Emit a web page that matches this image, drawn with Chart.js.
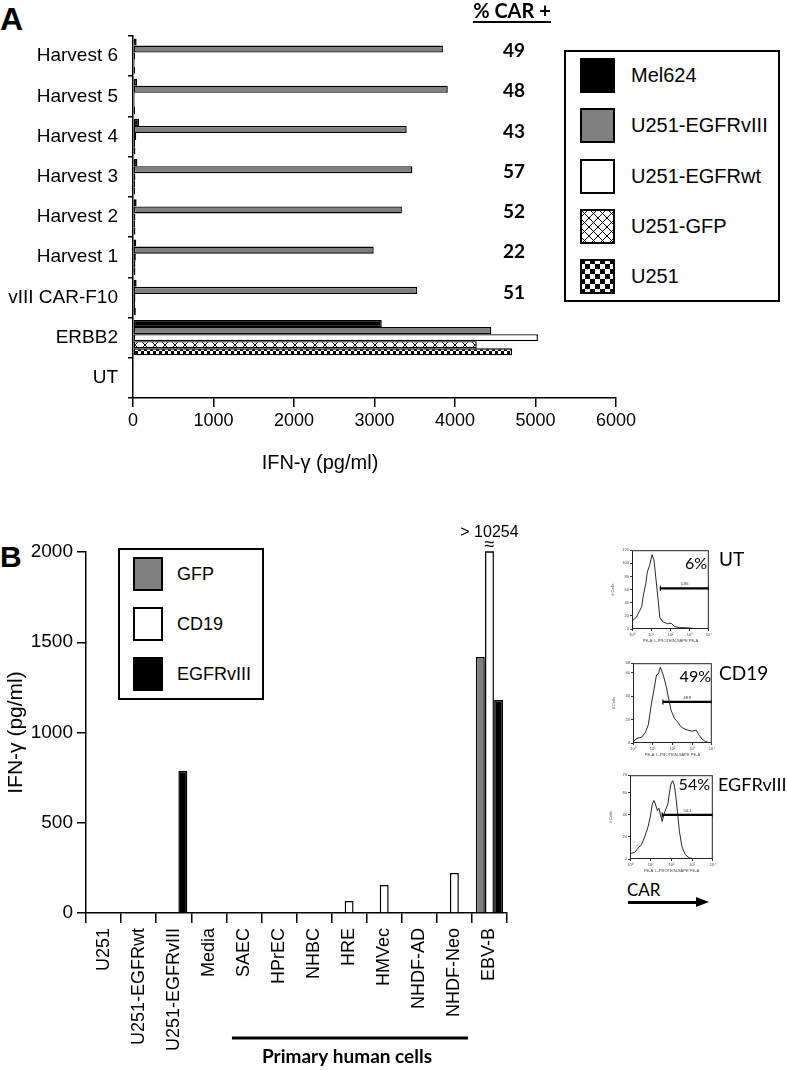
<!DOCTYPE html>
<html>
<head>
<meta charset="utf-8">
<script src="https://cdn.jsdelivr.net/npm/chart.js@4.4.1/dist/chart.umd.min.js"></script>
<style>
  body { margin: 0; background: #fff; }
  #page { position: relative; width: 787px; height: 1070px; overflow: hidden; background: #fff;
          font-family: 'Liberation Sans', Arial, sans-serif; color: #000; }
  #page canvas { position: absolute; }
  .abs { position: absolute; white-space: nowrap; }
  .panel { font-weight: bold; line-height: 1; }
  .narrow { font-family: 'Liberation Sans Narrow', 'Liberation Sans', Arial, sans-serif; }
  .humanist { font-family: Lato, 'Open Sans', sans-serif; }
  .legend { position: absolute; border: 2px solid #000; background: #fff; }
  .legend .row { position: absolute; left: 0; right: 0; }
  .legend .row canvas { position: absolute; left: 0; top: 0; }
  .legend .row span { position: absolute; white-space: nowrap; }
</style>
</head>
<body>
<div id="page">
  <div class="abs panel" style="left:0;top:3px;font-size:32px">A</div>
  <canvas id="chartA" width="640" height="480" style="left:0;top:0"></canvas>
  <div class="abs humanist" style="left:462px;top:0;width:100px;text-align:center">
    <span style="display:inline-block;font-weight:bold;font-size:20px;line-height:20px;border-bottom:2.5px solid #000;padding-bottom:1px">% CAR +</span>
  </div>
  <div class="abs narrow" style="left:220px;top:449px;width:200px;text-align:center;font-size:20px;line-height:26px">IFN-γ (pg/ml)</div>
  <div class="legend" id="legendA" style="left:564px;top:50px;width:212px;height:248px"></div>

  <div class="abs panel" style="left:0;top:542px;font-size:30px">B</div>
  <canvas id="chartB" width="540" height="550" style="left:0;top:520px"></canvas>
  <div class="legend" id="legendB" style="left:118px;top:548px;width:142px;height:148px"></div>

  <canvas id="histUT" width="104" height="98" style="left:610px;top:545px"></canvas>
  <canvas id="histCD19" width="106" height="99" style="left:611px;top:658px"></canvas>
  <canvas id="histVIII" width="110" height="103" style="left:608px;top:770px"></canvas>

  <div class="abs humanist" style="right:80px;top:553px;font-size:16px;line-height:20px">6%</div>
  <div class="abs humanist" style="left:719px;top:548px;font-size:19px;line-height:22px">UT</div>
  <div class="abs humanist" style="right:76px;top:666px;font-size:16px;line-height:20px">49%</div>
  <div class="abs humanist" style="left:719px;top:662px;font-size:19px;line-height:22px">CD19</div>
  <div class="abs humanist" style="right:77px;top:774px;font-size:16px;line-height:20px">54%</div>
  <div class="abs humanist" style="left:718px;top:773px;font-size:18px;line-height:22px">EGFRvIII</div>

  <div class="abs humanist" style="left:627px;top:879px;font-size:17px;line-height:22px">CAR</div>
  <div class="abs" style="left:628px;top:901px;width:70px;height:3px;background:#000"></div>
  <div class="abs" style="left:696px;top:897px;width:0;height:0;border-top:5px solid transparent;border-bottom:5px solid transparent;border-left:13px solid #000"></div>
</div>

<script>
// ---------- Panel A: IFN-gamma by harvest ----------
const aCategories = ['Harvest 6', 'Harvest 5', 'Harvest 4', 'Harvest 3', 'Harvest 2', 'Harvest 1', 'vIII CAR-F10', 'ERBB2', 'UT'];
const aMel624    = [45, 50, 75, 55, 45, 40, 45, 3090, 15];
const aU251vIII  = [3850, 3910, 3400, 3470, 3340, 2990, 3530, 4450, 10];
const aU251wt    = [25, 20, 40, 30, 30, 35, 30, 5030, 10];
const aU251gfp   = [20, 20, 25, 25, 25, 30, 25, 4270, 10];
const aU251      = [25, 25, 30, 25, 30, 30, 35, 4710, 10];
const carPercent = [49, 48, 43, 57, 52, 22, 51, null, null];
const aMax = 6000;
const aStep = 1000;

// ---------- Panel B: IFN-gamma vs targets ----------
const bCategories = ['U251', 'U251-EGFRwt', 'U251-EGFRvIII', 'Media', 'SAEC', 'HPrEC', 'NHBC', 'HRE', 'HMVec', 'NHDF-AD', 'NHDF-Neo', 'EBV-B'];
const bGFP       = [0, 0, 0, 0, 0, 0, 0, 0, 0, 0, 0, 1418];
const bCD19      = [0, 0, 0, 0, 0, 0, 0, 66, 155, 0, 222, 10254];
const bEGFRvIII  = [0, 0, 787, 0, 0, 0, 0, 0, 0, 0, 0, 1180];
const bMax = 2000;
const bStep = 500;
const primaryFrom = 'SAEC';
const primaryTo = 'NHDF-Neo';

// ---------- Flow histograms (CAR expression) ----------
const utX   = [1, 1.7, 3.2, 3.8, 5.2, 6.3, 8.3, 11, 14, 18, 23, 28, 40, 72, 107, 158, 290, 630, 1400, 3100, 10000];
const utY   = [12, 18, 34, 49, 69, 87, 97, 113, 105, 74, 44, 18, 11, 8, 9, 4, 2, 2, 1, 0, 0];
const cd19X = [1.07, 1.6, 2.8, 4.1, 6, 8.7, 11.5, 15.5, 19.5, 24.5, 29.5, 35.5, 49, 66, 85, 126, 182, 269, 398, 575, 1020, 1620, 2190, 3160, 4680, 8300];
const cd19Y = [1.4, 4, 5, 8.5, 15.6, 34, 45, 58, 59, 64.6, 61, 57, 48, 37, 28, 21, 18, 14, 12, 11, 10, 11, 7, 3.4, 1.4, 0];
const viiiX = [1.07, 1.7, 2.5, 3.6, 5.1, 7.4, 9.5, 12, 14.5, 17.4, 21, 25, 30, 36, 43, 56, 68, 79, 95, 115, 138, 166, 200, 240, 324, 468, 724, 1480, 6460];
const viiiY = [5, 6, 10, 13, 20, 29, 38, 50, 53, 49, 44, 46, 40, 34, 40, 46, 50, 59, 68, 71, 67, 56, 41, 26, 11, 4, 1, 0, 0];
const histYMax   = [120, 68, 76];
const gateFrom   = [30, 33, 36];
const gateLevel  = [62, 35, 40];
const gateLabels = ['5.86', '48.8', '54.1'];

// ---------- fill patterns ----------
function makeCross(period) {
    const c = document.createElement('canvas');
    c.width = c.height = period;
    const g = c.getContext('2d');
    g.fillStyle = '#fff';
    g.fillRect(0, 0, period, period);
    g.strokeStyle = '#000';
    g.lineWidth = 1;
    g.beginPath();
    g.moveTo(0, 0); g.lineTo(period, period);
    g.moveTo(period, 0); g.lineTo(0, period);
    g.stroke();
    return g.createPattern(c, 'repeat');
}

function makeChecker(sq) {
    const c = document.createElement('canvas');
    c.width = c.height = sq * 2;
    const g = c.getContext('2d');
    g.fillStyle = '#fff';
    g.fillRect(0, 0, sq * 2, sq * 2);
    g.fillStyle = '#000';
    g.fillRect(0, 0, sq, sq);
    g.fillRect(sq, sq, sq, sq);
    return g.createPattern(c, 'repeat');
}

const GRAY = '#808080';
const plainNumber = v => String(v);
Chart.defaults.font.family = "'Liberation Sans', Arial, sans-serif";
Chart.defaults.color = '#000';

// ---------- legends (HTML) ----------
function buildLegend(el, items, opts) {
    items.forEach((it, i) => {
        const row = document.createElement('div');
        row.className = 'row';
        row.style.top = (opts.top + i * opts.gap) + 'px';
        row.style.height = opts.h + 'px';
        const c = document.createElement('canvas');
        c.width = opts.w; c.height = opts.h;
        c.style.left = opts.left + 'px';
        const g = c.getContext('2d');
        g.fillStyle = it.fill;
        g.fillRect(0, 0, opts.w, opts.h);
        g.strokeStyle = '#000';
        g.lineWidth = 2;
        g.strokeRect(1, 1, opts.w - 2, opts.h - 2);
        row.appendChild(c);
        const s = document.createElement('span');
        s.textContent = it.label;
        s.style.left = opts.textLeft + 'px';
        s.style.fontSize = opts.fontSize + 'px';
        s.style.lineHeight = opts.h + 'px';
        row.appendChild(s);
        el.appendChild(row);
    });
}

buildLegend(document.getElementById('legendA'), [
    { label: 'Mel624', fill: '#000' },
    { label: 'U251-EGFRvIII', fill: GRAY },
    { label: 'U251-EGFRwt', fill: '#fff' },
    { label: 'U251-GFP', fill: makeCross(9) },
    { label: 'U251', fill: makeChecker(5) }
], { top: 6, gap: 50.3, left: 14, w: 35, h: 35, textLeft: 65, fontSize: 20 });

buildLegend(document.getElementById('legendB'), [
    { label: 'GFP', fill: GRAY },
    { label: 'CD19', fill: '#fff' },
    { label: 'EGFRvIII', fill: '#000' }
], { top: 7, gap: 50, left: 13, w: 30, h: 34, textLeft: 57, fontSize: 18 });

// ---------- Panel A chart ----------
const carLabelsPlugin = {
    id: 'carLabels',
    afterDraw(chart) {
        const { ctx, scales: { y } } = chart;
        ctx.save();
        ctx.font = "bold 19px Lato, 'Open Sans', sans-serif";
        ctx.textAlign = 'center';
        ctx.textBaseline = 'middle';
        ctx.fillStyle = '#000';
        carPercent.forEach((v, i) => {
            if (v === null) return;
            ctx.fillText(String(v), 514, y.getPixelForValue(i) - 5);
        });
        ctx.restore();
    }
};

const aSeries = [
    { label: 'Mel624', data: aMel624, backgroundColor: '#000' },
    { label: 'U251-EGFRvIII', data: aU251vIII, backgroundColor: GRAY },
    { label: 'U251-EGFRwt', data: aU251wt, backgroundColor: '#fff' },
    { label: 'U251-GFP', data: aU251gfp, backgroundColor: makeCross(10) },
    { label: 'U251', data: aU251, backgroundColor: makeChecker(3) }
];

new Chart(document.getElementById('chartA'), {
    type: 'bar',
    data: {
        labels: aCategories,
        datasets: aSeries.map(d => Object.assign(d, {
            borderColor: '#000',
            borderWidth: 1.4,
            borderSkipped: false,
            categoryPercentage: 0.88,
            barPercentage: 1
        }))
    },
    options: {
        indexAxis: 'y',
        responsive: false,
        animation: false,
        layout: { padding: { top: 36, right: 24, left: 0, bottom: 0 } },
        plugins: { legend: { display: false }, tooltip: { enabled: false } },
        scales: {
            x: {
                min: 0,
                max: aMax,
                ticks: { stepSize: aStep, font: { size: 18 }, padding: 3, maxRotation: 0, callback: plainNumber },
                grid: { drawOnChartArea: false, color: '#000', lineWidth: 1.5, tickLength: 9 },
                border: { color: '#000', width: 1.5 },
                afterFit(s) { s.height = 82; }
            },
            y: {
                ticks: { font: { size: 19 }, padding: 10 },
                grid: { drawOnChartArea: false, color: '#000', lineWidth: 1.5, tickLength: 5, offset: true },
                border: { color: '#000', width: 1.5 },
                afterFit(s) { s.width = 133; }
            }
        }
    },
    plugins: [carLabelsPlugin]
});

// ---------- Panel B chart ----------
const bAnnotations = {
    id: 'bAnnotations',
    afterDatasetsDraw(chart) {
        const { ctx, chartArea, scales: { x } } = chart;
        ctx.save();
        // off-scale bars: cap line, break mark and value
        chart.data.datasets.forEach((ds, di) => {
            const meta = chart.getDatasetMeta(di);
            ds.data.forEach((v, i) => {
                if (v <= bMax) return;
                const bar = meta.data[i];
                const half = bar.width / 2;
                ctx.strokeStyle = '#000';
                ctx.lineWidth = 1.5;
                ctx.beginPath();
                ctx.moveTo(bar.x - half, chartArea.top);
                ctx.lineTo(bar.x + half, chartArea.top);
                ctx.stroke();
                ctx.fillStyle = '#000';
                ctx.textAlign = 'center';
                ctx.textBaseline = 'middle';
                ctx.font = "18px 'Liberation Sans', Arial, sans-serif";
                ctx.fillText('≈', bar.x, chartArea.top - 7);
                ctx.font = "16px 'Liberation Sans Narrow', 'Liberation Sans', Arial, sans-serif";
                ctx.fillText('> ' + v, bar.x, chartArea.top - 19);
            });
        });
        // bracket under the primary human cells
        const cw = x.getPixelForValue(1) - x.getPixelForValue(0);
        const x0 = x.getPixelForValue(bCategories.indexOf(primaryFrom)) - 0.34 * cw;
        const x1 = x.getPixelForValue(bCategories.indexOf(primaryTo)) + 0.39 * cw;
        ctx.fillStyle = '#000';
        ctx.fillRect(x0, 516.5, x1 - x0, 3);
        ctx.font = "bold 19px Lato, 'Open Sans', sans-serif";
        ctx.textAlign = 'center';
        ctx.textBaseline = 'middle';
        ctx.fillText('Primary human cells', (x0 + x1) / 2 - 3, 537);
        ctx.restore();
    }
};

const bSeries = [
    { label: 'GFP', data: bGFP, backgroundColor: GRAY },
    { label: 'CD19', data: bCD19, backgroundColor: '#fff' },
    { label: 'EGFRvIII', data: bEGFRvIII, backgroundColor: '#000' }
];

new Chart(document.getElementById('chartB'), {
    type: 'bar',
    data: {
        labels: bCategories,
        datasets: bSeries.map(d => Object.assign(d, {
            borderColor: '#000',
            borderWidth: 1.5,
            categoryPercentage: 0.78,
            barPercentage: 0.98,
            clip: 0
        }))
    },
    options: {
        responsive: false,
        animation: false,
        layout: { padding: { top: 32, right: 33, left: 0, bottom: 0 } },
        plugins: { legend: { display: false }, tooltip: { enabled: false } },
        scales: {
            x: {
                ticks: { font: { size: 18 }, padding: 5, minRotation: 90, maxRotation: 90, autoSkip: false },
                grid: { drawOnChartArea: false, color: '#000', lineWidth: 1.5, tickLength: 10, offset: true },
                border: { color: '#000', width: 1.5 },
                afterFit(s) { s.height = 157; }
            },
            y: {
                min: 0,
                max: bMax,
                ticks: { stepSize: bStep, font: { size: 19 }, padding: 4, callback: plainNumber },
                grid: { drawOnChartArea: false, color: '#000', lineWidth: 1.5, tickLength: 9 },
                border: { color: '#000', width: 1.5 },
                title: {
                    display: true,
                    text: 'IFN-γ (pg/ml)',
                    font: { size: 21, family: "'Liberation Sans Narrow', 'Liberation Sans', Arial, sans-serif" },
                    padding: { top: 4, bottom: 0 }
                },
                afterFit(s) { s.width = 86; }
            }
        }
    },
    plugins: [bAnnotations]
});

// ---------- histograms ----------
const SUP = ['⁰', '¹', '²', '³', '⁴'];
const histBox = {
    id: 'histBox',
    afterDraw(chart) {
        const { ctx, chartArea: a, scales: { x, y } } = chart;
        const k = chart.options.plugins.histBox;
        ctx.save();
        ctx.strokeStyle = '#222';
        ctx.lineWidth = 1;
        ctx.strokeRect(a.left + 0.5, a.top + 0.5, a.width - 1, a.height - 1);
        ctx.fillStyle = '#333';
        ctx.font = "4px 'Liberation Sans', Arial, sans-serif";
        ctx.textAlign = 'center';
        ctx.textBaseline = 'bottom';
        const gx = x.getPixelForValue(Math.sqrt(k.from * 10000));
        ctx.fillText(k.label, gx, y.getPixelForValue(k.level) - 2);
        ctx.restore();
    }
};

function histChart(id, xs, ys, n) {
    const points = xs.map((v, i) => ({ x: v, y: ys[i] }));
    const tiny = { size: 4 };
    return new Chart(document.getElementById(id), {
        type: 'line',
        data: {
            datasets: [
                { data: points, borderColor: '#111', borderWidth: 0.9, pointRadius: 0, tension: 0 },
                {
                    data: [{ x: gateFrom[n], y: gateLevel[n] }, { x: 10000, y: gateLevel[n] }],
                    borderColor: '#000', borderWidth: 2.2,
                    pointRadius: 2.5, pointStyle: 'line', rotation: 90,
                    pointBorderColor: '#000', pointBorderWidth: 1.2
                }
            ]
        },
        options: {
            responsive: false,
            animation: false,
            layout: { padding: { top: 5, right: 4, left: 0, bottom: 0 } },
            plugins: {
                legend: { display: false },
                tooltip: { enabled: false },
                histBox: { from: gateFrom[n], level: gateLevel[n], label: gateLabels[n] }
            },
            scales: {
                x: {
                    type: 'logarithmic',
                    min: 1,
                    max: 10000,
                    afterBuildTicks(s) { s.ticks = [1, 10, 100, 1000, 10000].map(v => ({ value: v })); },
                    ticks: {
                        font: tiny, color: '#444', padding: 1, maxRotation: 0, autoSkip: false,
                        callback: v => '10' + SUP[Math.round(Math.log10(v))]
                    },
                    grid: { drawOnChartArea: false, tickLength: 2, color: '#333' },
                    border: { display: false },
                    title: { display: true, text: 'PE-A: L-PROTEIN-SAPE PE-A', font: tiny, color: '#444', padding: 0 },
                    afterFit(s) { s.height = 14; }
                },
                y: {
                    min: 0,
                    max: histYMax[n],
                    ticks: { stepSize: 20, font: tiny, color: '#444', padding: 1 },
                    grid: { drawOnChartArea: false, tickLength: 2, color: '#333' },
                    border: { display: false },
                    title: { display: true, text: '# Cells', font: tiny, color: '#444', padding: 0 },
                    afterFit(s) { s.width = 22; }
                }
            }
        },
        plugins: [histBox]
    });
}

histChart('histUT', utX, utY, 0);
histChart('histCD19', cd19X, cd19Y, 1);
histChart('histVIII', viiiX, viiiY, 2);
</script>
</body>
</html>
